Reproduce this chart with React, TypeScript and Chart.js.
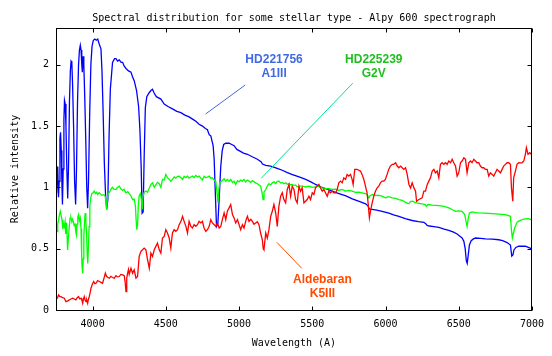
import React, { useEffect, useRef } from "react";
import { Chart, registerables } from "chart.js";

Chart.register(...registerables);

const TITLE = "Spectral distribution for some stellar type - Alpy 600 spectrograph";
const X_TITLE = "Wavelength (A)";
const Y_TITLE = "Relative intensity";
const X_MIN = 3750;
const X_MAX = 7000;
const Y_MIN = 0;
const Y_MAX = 2.3;
const xTicks = [4000, 4500, 5000, 5500, 6000, 6500, 7000];
const yTicks = [0, 0.5, 1, 1.5, 2];
const yTickLabels = ["0", "0.5", "1", "1.5", "2"];

// HD221756 (A1III) - blue
const blueWl = [3750,3754,3758,3762,3767,3772,3777,3781,3786,3790,3794,3799,3804,3808,3813,3818,3824,3830,3836,3842,3848,3853,3858,3863,3870,3877,3884,3890,3897,3904,3910,3916,3921,3926,3930,3935,3940,3946,3953,3960,3966,3972,3980,3988,3996,4005,4015,4025,4035,4045,4057,4064,4072,4080,4088,4096,4104,4112,4121,4136,4150,4160,4170,4182,4195,4205,4215,4228,4245,4262,4273,4284,4300,4314,4323,4332,4338,4345,4352,4360,4370,4385,4398,4409,4420,4435,4466,4489,4515,4545,4575,4603,4630,4659,4685,4705,4727,4750,4770,4784,4796,4807,4818,4823,4830,4838,4846,4855,4866,4875,4885,4895,4909,4932,4950,4966,4985,5000,5030,5057,5090,5125,5150,5160,5182,5205,5227,5260,5295,5330,5364,5410,5455,5490,5523,5555,5591,5635,5682,5730,5773,5820,5864,5880,5887,5895,5909,5940,5977,6023,6055,6091,6135,6182,6225,6262,6278,6284,6300,6330,6364,6400,6432,6465,6489,6510,6523,6535,6544,6552,6558,6565,6573,6585,6600,6614,6650,6682,6730,6773,6800,6830,6853,6862,6870,6877,6890,6910,6935,6955,6975,6995];
const blueFlux = [1.17,0.95,1.10,1.17,0.92,1.05,1.40,1.45,1.30,1.05,0.86,1.15,1.55,1.71,1.68,1.50,1.15,0.91,1.20,1.70,1.95,2.03,2.02,1.85,1.50,1.05,0.86,1.15,1.70,2.00,2.12,2.16,2.12,2.00,1.94,2.07,2.00,1.75,1.40,1.00,0.83,1.05,1.60,2.00,2.15,2.20,2.21,2.20,2.21,2.17,2.13,1.95,1.60,1.20,0.95,0.82,0.90,1.40,1.80,2.02,2.05,2.05,2.03,2.04,2.02,2.02,1.99,1.97,1.95,1.94,1.90,1.87,1.79,1.66,1.47,1.15,0.79,0.80,1.25,1.65,1.74,1.77,1.79,1.80,1.77,1.74,1.72,1.68,1.66,1.64,1.62,1.61,1.59,1.575,1.555,1.54,1.515,1.50,1.48,1.47,1.43,1.42,1.365,1.34,1.23,0.95,0.68,0.70,0.95,1.17,1.30,1.35,1.36,1.36,1.35,1.34,1.31,1.30,1.28,1.27,1.25,1.23,1.21,1.19,1.18,1.175,1.17,1.155,1.14,1.12,1.105,1.085,1.065,1.045,1.024,1.005,0.99,0.97,0.95,0.93,0.906,0.886,0.866,0.85,0.83,0.82,0.82,0.815,0.805,0.79,0.775,0.764,0.745,0.73,0.72,0.715,0.70,0.69,0.685,0.68,0.674,0.66,0.65,0.635,0.62,0.60,0.587,0.56,0.50,0.40,0.38,0.45,0.53,0.565,0.58,0.587,0.585,0.58,0.578,0.573,0.565,0.55,0.53,0.44,0.45,0.49,0.51,0.52,0.52,0.52,0.51,0.50];

// HD225239 (G2V) - green
const greenWl = [3750,3757,3762,3768,3774,3779,3785,3791,3797,3802,3807,3812,3816,3822,3826,3829,3834,3840,3846,3852,3858,3863,3868,3874,3880,3885,3889,3894,3899,3904,3910,3916,3921,3925,3928,3932,3936,3940,3944,3949,3954,3959,3963,3967,3971,3976,3981,3987,3995,4004,4011,4020,4028,4034,4045,4055,4065,4077,4086,4092,4096,4100,4106,4115,4125,4136,4145,4159,4170,4182,4192,4205,4215,4227,4240,4250,4262,4273,4284,4292,4298,4302,4307,4312,4318,4326,4333,4339,4345,4352,4364,4375,4387,4398,4409,4421,4432,4443,4455,4466,4477,4489,4500,4511,4523,4534,4545,4557,4568,4580,4591,4603,4614,4625,4637,4648,4659,4671,4682,4693,4705,4716,4727,4739,4750,4761,4773,4784,4796,4807,4818,4830,4841,4850,4856,4862,4868,4880,4898,4909,4920,4932,4943,4955,4966,4977,4989,5000,5011,5023,5034,5045,5057,5068,5080,5091,5113,5125,5136,5147,5158,5164,5170,5182,5193,5204,5216,5227,5240,5250,5261,5272,5284,5295,5306,5318,5330,5341,5352,5363,5375,5386,5397,5409,5431,5454,5477,5500,5522,5545,5568,5590,5613,5636,5659,5681,5704,5727,5749,5772,5795,5818,5840,5863,5878,5886,5893,5909,5930,5955,5977,6000,6020,6046,6070,6091,6114,6135,6150,6160,6170,6182,6205,6230,6250,6273,6278,6290,6320,6364,6400,6432,6455,6478,6500,6523,6541,6550,6557,6564,6573,6591,6614,6637,6680,6728,6775,6819,6840,6853,6860,6866,6872,6882,6898,6910,6921,6940,6955,6975,6995];
const greenFlux = [0.655,0.64,0.70,0.737,0.78,0.805,0.77,0.737,0.66,0.70,0.682,0.72,0.62,0.71,0.60,0.49,0.58,0.669,0.75,0.751,0.72,0.74,0.723,0.69,0.70,0.64,0.614,0.70,0.76,0.778,0.73,0.751,0.66,0.45,0.355,0.30,0.42,0.60,0.70,0.79,0.72,0.62,0.46,0.38,0.50,0.68,0.85,0.915,0.95,0.955,0.97,0.95,0.96,0.942,0.956,0.945,0.935,0.94,0.928,0.88,0.82,0.90,0.95,0.96,0.985,1.0,0.985,0.983,1.0,1.01,0.99,0.975,0.985,0.956,0.965,0.95,0.93,0.90,0.905,0.85,0.72,0.655,0.70,0.85,0.93,0.95,0.90,0.82,0.93,0.96,0.97,0.96,0.995,1.024,1.037,1.00,1.02,1.04,1.03,1.0,1.065,1.06,1.105,1.08,1.065,1.05,1.065,1.085,1.075,1.09,1.092,1.078,1.065,1.09,1.08,1.092,1.075,1.085,1.092,1.08,1.098,1.085,1.092,1.075,1.06,1.09,1.078,1.085,1.092,1.075,1.078,1.06,1.05,0.95,0.875,0.98,1.037,1.05,1.07,1.051,1.065,1.05,1.065,1.04,1.05,1.024,1.055,1.045,1.06,1.051,1.065,1.045,1.06,1.051,1.04,1.055,1.037,1.03,1.02,1.01,0.95,0.90,0.96,0.983,1.01,1.03,1.02,1.037,1.045,1.03,1.05,1.051,1.035,1.04,1.03,1.037,1.025,1.03,1.02,1.024,1.015,1.02,1.005,1.01,1.01,1.005,1.01,1.0,1.005,1.01,0.995,0.99,0.99,0.983,0.985,0.975,0.983,0.97,0.975,0.969,0.96,0.962,0.956,0.95,0.935,0.915,0.93,0.942,0.935,0.934,0.928,0.915,0.925,0.915,0.91,0.901,0.895,0.88,0.87,0.868,0.885,0.887,0.875,0.87,0.865,0.86,0.845,0.86,0.855,0.852,0.845,0.833,0.82,0.805,0.808,0.805,0.778,0.72,0.682,0.74,0.792,0.80,0.795,0.792,0.79,0.786,0.782,0.778,0.77,0.764,0.65,0.587,0.62,0.669,0.715,0.725,0.731,0.74,0.743,0.745,0.737];

// Aldebaran (K5III) - red
const redWl = [3750,3760,3768,3776,3784,3795,3807,3818,3830,3841,3852,3863,3875,3886,3895,3904,3912,3921,3927,3932,3938,3943,3949,3955,3960,3966,3972,3977,3983,3989,3998,4007,4015,4023,4034,4046,4057,4068,4078,4087,4095,4105,4114,4125,4136,4148,4160,4170,4182,4193,4205,4216,4222,4228,4233,4239,4245,4250,4262,4273,4284,4296,4307,4318,4330,4341,4352,4364,4375,4387,4398,4409,4421,4432,4443,4455,4466,4477,4489,4500,4511,4523,4534,4545,4557,4568,4580,4591,4603,4614,4625,4637,4648,4659,4671,4682,4693,4705,4716,4727,4739,4750,4761,4773,4784,4796,4807,4818,4830,4841,4852,4864,4875,4886,4898,4909,4920,4932,4943,4955,4966,4977,4989,5000,5011,5023,5034,5045,5057,5068,5080,5091,5102,5113,5125,5136,5147,5159,5165,5170,5176,5182,5193,5204,5216,5227,5238,5250,5261,5272,5284,5295,5306,5318,5329,5341,5352,5363,5375,5386,5397,5409,5420,5431,5443,5454,5465,5477,5488,5500,5511,5522,5534,5545,5556,5568,5579,5590,5602,5613,5624,5636,5647,5659,5670,5681,5693,5704,5715,5727,5738,5749,5761,5772,5779,5790,5806,5818,5829,5840,5852,5863,5874,5881,5890,5897,5909,5920,5931,5943,5954,5965,5977,5988,5999,6011,6022,6033,6046,6056,6069,6080,6091,6103,6114,6125,6137,6148,6160,6171,6182,6194,6205,6212,6228,6250,6262,6273,6285,6296,6307,6319,6330,6341,6353,6364,6375,6387,6398,6410,6421,6432,6444,6455,6466,6478,6489,6500,6512,6523,6535,6546,6557,6569,6580,6591,6603,6614,6625,6637,6648,6660,6671,6682,6694,6705,6716,6728,6739,6750,6762,6773,6785,6796,6807,6819,6830,6841,6853,6860,6869,6875,6887,6898,6910,6921,6932,6944,6955,6962,6973,6985,6994];
const redFlux = [0.082,0.10,0.123,0.11,0.109,0.10,0.096,0.068,0.075,0.082,0.09,0.096,0.09,0.082,0.10,0.109,0.09,0.096,0.08,0.055,0.09,0.109,0.08,0.068,0.08,0.055,0.09,0.109,0.14,0.178,0.21,0.232,0.215,0.218,0.24,0.232,0.225,0.218,0.26,0.30,0.275,0.265,0.26,0.275,0.265,0.26,0.28,0.27,0.273,0.29,0.287,0.28,0.23,0.15,0.26,0.30,0.33,0.29,0.341,0.30,0.328,0.26,0.273,0.437,0.478,0.491,0.505,0.491,0.41,0.341,0.464,0.437,0.491,0.519,0.546,0.491,0.464,0.587,0.60,0.655,0.628,0.587,0.505,0.628,0.655,0.641,0.655,0.696,0.723,0.764,0.723,0.682,0.628,0.723,0.682,0.669,0.696,0.682,0.696,0.723,0.71,0.723,0.669,0.641,0.655,0.682,0.737,0.71,0.696,0.682,0.71,0.669,0.682,0.737,0.792,0.737,0.805,0.833,0.86,0.778,0.751,0.71,0.737,0.696,0.655,0.696,0.669,0.723,0.764,0.723,0.74,0.723,0.70,0.71,0.72,0.696,0.628,0.573,0.50,0.491,0.56,0.628,0.587,0.655,0.764,0.805,0.86,0.792,0.682,0.846,0.928,0.956,0.901,0.874,0.983,1.024,0.928,1.01,0.983,0.901,0.874,1.01,0.969,0.996,0.874,0.887,0.901,0.928,0.901,0.956,0.942,0.996,1.01,1.024,0.996,0.969,0.983,0.956,0.928,0.969,0.956,0.969,0.956,0.956,0.983,1.037,1.051,1.037,1.078,1.065,1.106,1.092,1.106,1.065,1.024,1.147,1.147,1.14,1.133,1.106,1.065,1.01,0.956,0.874,0.751,0.805,0.874,0.928,0.969,0.996,1.01,1.037,1.051,1.051,1.065,1.106,1.147,1.174,1.188,1.188,1.201,1.174,1.16,1.174,1.16,1.147,1.16,1.106,1.024,0.996,1.037,0.996,0.969,0.887,0.901,0.915,0.969,0.969,1.024,1.051,1.078,1.133,1.147,1.119,1.133,1.078,1.188,1.201,1.188,1.201,1.188,1.215,1.201,1.229,1.201,1.174,1.092,1.119,1.201,1.215,1.242,1.229,1.119,1.201,1.215,1.201,1.229,1.215,1.201,1.201,1.174,1.16,1.16,1.147,1.147,1.092,1.119,1.106,1.092,1.119,1.147,1.133,1.119,1.147,1.174,1.188,1.201,1.201,1.188,0.996,0.887,1.078,1.133,1.188,1.201,1.20,1.201,1.215,1.27,1.324,1.27,1.283,1.27];

// Annotations (data coordinates)
const noteTexts = [["HD221756", "A1III"], ["HD225239", "G2V"], ["Aldebaran", "K5III"]];
const noteCenterX = [5239, 5920, 5569];
const noteCenterY = [1.988, 1.988, 0.192];
const noteTextColors = ["#4169e1", "#1fbf1f", "#ff4a00"];
const leaderFromX = [4772, 5151, 5258];
const leaderFromY = [1.599, 1.074, 0.552];
const leaderToX = [5042, 5776, 5428];
const leaderToY = [1.835, 1.849, 0.340];
const leaderColors = ["#4169e1", "#00e090", "#ff4a00"];

const MONO = "'DejaVu Sans Mono', 'Liberation Mono', monospace";

const toPoints = (wl: number[], f: number[]) => wl.map((x, i) => ({ x, y: f[i] }));

const framePlugin = {
  id: "gnuplotFrame",
  afterDatasetsDraw(chart: any) {
    const { ctx, chartArea, scales } = chart;
    const { left, right, top, bottom } = chartArea;
    const xs = scales.x;
    const ys = scales.y;
    ctx.save();
    for (let i = 0; i < leaderFromX.length; i++) {
      ctx.strokeStyle = leaderColors[i];
      ctx.lineWidth = 1;
      ctx.beginPath();
      ctx.moveTo(xs.getPixelForValue(leaderFromX[i]), ys.getPixelForValue(leaderFromY[i]));
      ctx.lineTo(xs.getPixelForValue(leaderToX[i]), ys.getPixelForValue(leaderToY[i]));
      ctx.stroke();
    }
    ctx.font = "bold 12px 'Liberation Sans', Arial, sans-serif";
    ctx.textAlign = "center";
    ctx.textBaseline = "middle";
    for (let i = 0; i < noteTexts.length; i++) {
      const cx = xs.getPixelForValue(noteCenterX[i]);
      const cy = ys.getPixelForValue(noteCenterY[i]);
      ctx.fillStyle = noteTextColors[i];
      const lines = noteTexts[i];
      lines.forEach((t, k) => {
        ctx.fillText(t, cx, cy + (k - (lines.length - 1) / 2) * 14);
      });
    }
    ctx.strokeStyle = "#000";
    ctx.lineWidth = 1;
    const L = Math.round(left) + 0.5;
    const R = Math.round(right) - 0.5;
    const T = Math.round(top) + 0.5;
    const B = Math.round(bottom) + 0.5;
    ctx.strokeRect(L, T, R - L, B - T);
    const tl = 4;
    ctx.beginPath();
    xTicks.forEach((v) => {
      const px = Math.round(xs.getPixelForValue(v)) + 0.5;
      ctx.moveTo(px, B);
      ctx.lineTo(px, B - tl);
      ctx.moveTo(px, T);
      ctx.lineTo(px, T + tl);
    });
    yTicks.forEach((v) => {
      const py = Math.round(ys.getPixelForValue(v)) + 0.5;
      ctx.moveTo(L, py);
      ctx.lineTo(L + tl, py);
      ctx.moveTo(R, py);
      ctx.lineTo(R - tl, py);
    });
    ctx.stroke();
    ctx.restore();
  },
};

export default function App() {
  const canvasRef = useRef<HTMLCanvasElement | null>(null);

  useEffect(() => {
    const canvas = canvasRef.current;
    if (!canvas) return;
    const font = { family: MONO, size: 10, weight: "normal" as const };
    const chart = new Chart(canvas, {
      type: "line",
      data: {
        datasets: [
          { label: "Aldebaran K5III", data: toPoints(redWl, redFlux), borderColor: "#ff0000", borderWidth: 1.3, pointRadius: 0, fill: false, tension: 0 },
          { label: "HD225239 G2V", data: toPoints(greenWl, greenFlux), borderColor: "#00ff00", borderWidth: 1.3, pointRadius: 0, fill: false, tension: 0 },
          { label: "HD221756 A1III", data: toPoints(blueWl, blueFlux), borderColor: "#0000ff", borderWidth: 1.3, pointRadius: 0, fill: false, tension: 0 },
        ],
      },
      options: {
        animation: false,
        responsive: false,
        devicePixelRatio: 1,
        parsing: false,
        normalized: true,
        events: [],
        layout: { padding: { left: 0, right: 19, top: 0, bottom: 0 } },
        plugins: {
          legend: { display: false },
          tooltip: { enabled: false },
          title: {
            display: true,
            text: TITLE,
            fullSize: false,
            color: "#000",
            font,
            padding: { top: 12, bottom: 4 },
          },
        },
        scales: {
          x: {
            type: "linear",
            min: X_MIN,
            max: X_MAX,
            afterBuildTicks: (s: any) => {
              s.ticks = xTicks.map((v) => ({ value: v }));
            },
            afterFit: (s: any) => {
              s.height = 46;
            },
            grid: { display: false, drawTicks: false },
            border: { display: false },
            ticks: {
              color: "#000",
              font,
              padding: 8,
              maxRotation: 0,
              autoSkip: false,
              callback: (v: any) => String(v),
            },
            title: { display: true, text: X_TITLE, color: "#000", font, padding: { top: 0, bottom: 7 } },
          },
          y: {
            type: "linear",
            min: Y_MIN,
            max: Y_MAX,
            afterBuildTicks: (s: any) => {
              s.ticks = yTicks.map((v) => ({ value: v }));
            },
            afterFit: (s: any) => {
              s.width = 56;
            },
            grid: { display: false, drawTicks: false },
            border: { display: false },
            ticks: {
              color: "#000",
              font,
              padding: 7,
              autoSkip: false,
              callback: (v: any) => {
                const i = yTicks.indexOf(Number(v));
                return i >= 0 ? yTickLabels[i] : "";
              },
            },
            title: { display: true, text: Y_TITLE, color: "#000", font, padding: { top: 9, bottom: 0 } },
          },
        },
      },
      plugins: [framePlugin],
    } as any);
    return () => chart.destroy();
  }, []);

  return (
    <div style={{ position: "fixed", left: 0, top: 0, width: 552, height: 356, background: "#fff" }}>
      <canvas ref={canvasRef} width={552} height={356} style={{ display: "block" }} />
    </div>
  );
}
